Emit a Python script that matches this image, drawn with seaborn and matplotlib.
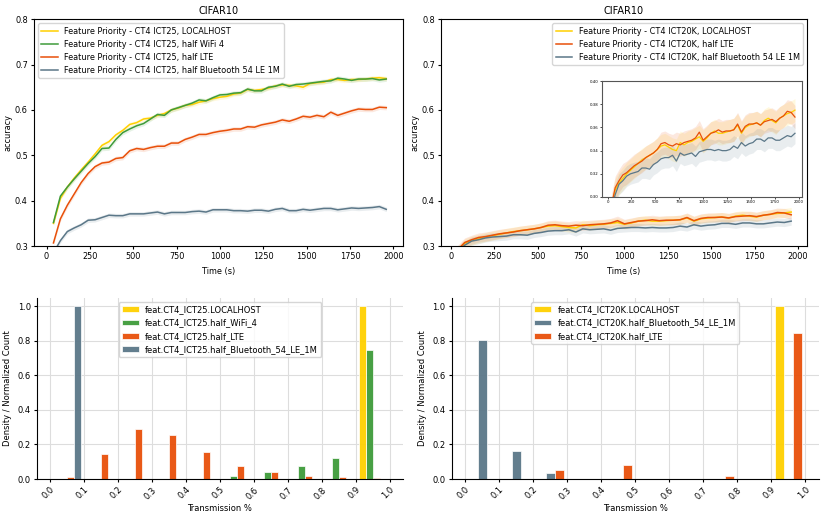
import numpy as np
import pandas as pd
import matplotlib
matplotlib.use("Agg")
import matplotlib.pyplot as plt
import seaborn as sns

plt.rcParams["font.family"] = ["DejaVu Sans"]
plt.rcParams["font.size"] = 5.9

# ---- accuracy curves (time in s) ----
time_s = [40, 80, 120, 160, 200, 240, 280, 320, 360, 400, 440, 480, 520, 560, 600, 640, 680,
          720, 760, 800, 840, 880, 920, 960, 1000, 1040, 1080, 1120, 1160, 1200, 1240, 1280,
          1320, 1360, 1400, 1440, 1480, 1520, 1560, 1600, 1640, 1680, 1720, 1760, 1800, 1840,
          1880, 1920, 1960]

ict25_local = [0.350, 0.405, 0.430, 0.450, 0.468, 0.485, 0.503, 0.522, 0.530, 0.545, 0.555,
               0.568, 0.572, 0.580, 0.582, 0.588, 0.592, 0.600, 0.604, 0.610, 0.612, 0.617,
               0.620, 0.625, 0.628, 0.630, 0.635, 0.637, 0.645, 0.643, 0.645, 0.648, 0.653,
               0.655, 0.654, 0.653, 0.650, 0.658, 0.660, 0.661, 0.667, 0.667, 0.665, 0.667,
               0.667, 0.668, 0.670, 0.671, 0.669]
ict25_wifi = [0.352, 0.410, 0.430, 0.448, 0.465, 0.482, 0.497, 0.515, 0.516, 0.535, 0.550,
              0.558, 0.565, 0.570, 0.580, 0.590, 0.588, 0.600, 0.605, 0.610, 0.615, 0.622,
              0.620, 0.627, 0.633, 0.634, 0.637, 0.638, 0.646, 0.642, 0.642, 0.650, 0.652,
              0.657, 0.652, 0.656, 0.657, 0.659, 0.661, 0.663, 0.664, 0.670, 0.668, 0.665,
              0.668, 0.668, 0.669, 0.666, 0.668]
ict25_lte = [0.307, 0.360, 0.390, 0.415, 0.440, 0.460, 0.475, 0.483, 0.485, 0.493, 0.495,
             0.510, 0.515, 0.513, 0.517, 0.520, 0.520, 0.527, 0.527, 0.535, 0.540, 0.546,
             0.546, 0.550, 0.553, 0.555, 0.558, 0.558, 0.563, 0.562, 0.567, 0.570, 0.573,
             0.578, 0.575, 0.580, 0.586, 0.584, 0.588, 0.585, 0.595, 0.588, 0.593, 0.598,
             0.602, 0.601, 0.601, 0.606, 0.605]
ict25_bt = [0.285, 0.312, 0.332, 0.340, 0.347, 0.357, 0.358, 0.363, 0.368, 0.367, 0.367,
            0.371, 0.371, 0.371, 0.373, 0.375, 0.371, 0.374, 0.374, 0.374, 0.376, 0.377,
            0.375, 0.380, 0.380, 0.380, 0.378, 0.378, 0.377, 0.379, 0.379, 0.377, 0.381,
            0.383, 0.378, 0.378, 0.381, 0.379, 0.381, 0.383, 0.383, 0.380, 0.382, 0.384,
            0.383, 0.384, 0.385, 0.387, 0.381]

ict20k_local = [0.290, 0.306, 0.312, 0.316, 0.320, 0.323, 0.326, 0.329, 0.332, 0.334, 0.336,
                0.338, 0.341, 0.344, 0.345, 0.343, 0.341, 0.340, 0.347, 0.345, 0.347, 0.348,
                0.350, 0.352, 0.348, 0.351, 0.355, 0.357, 0.355, 0.355, 0.356, 0.357, 0.358,
                0.362, 0.355, 0.360, 0.362, 0.363, 0.364, 0.362, 0.366, 0.368, 0.366, 0.364,
                0.368, 0.370, 0.372, 0.373, 0.375]
ict20k_lte = [0.292, 0.308, 0.314, 0.319, 0.321, 0.324, 0.327, 0.329, 0.331, 0.334, 0.336,
              0.338, 0.341, 0.346, 0.347, 0.345, 0.344, 0.346, 0.345, 0.347, 0.348, 0.349,
              0.351, 0.356, 0.349, 0.352, 0.355, 0.356, 0.358, 0.356, 0.357, 0.357, 0.358,
              0.363, 0.356, 0.361, 0.363, 0.363, 0.364, 0.362, 0.365, 0.366, 0.367, 0.365,
              0.368, 0.370, 0.374, 0.373, 0.369]
ict20k_bt = [0.288, 0.302, 0.311, 0.314, 0.318, 0.320, 0.321, 0.322, 0.325, 0.325, 0.324,
             0.328, 0.330, 0.333, 0.334, 0.334, 0.336, 0.331, 0.338, 0.336, 0.337, 0.338,
             0.335, 0.339, 0.340, 0.341, 0.341, 0.340, 0.341, 0.340, 0.340, 0.341, 0.344,
             0.342, 0.347, 0.344, 0.346, 0.347, 0.350, 0.350, 0.348, 0.351, 0.351, 0.349,
             0.349, 0.351, 0.353, 0.352, 0.355]

band_ict25 = [0.005, 0.005, 0.005, 0.005]
band_ict20k = [0.01, 0.01, 0.009]

labels_ict25 = ["Feature Priority - CT4 ICT25, LOCALHOST",
                "Feature Priority - CT4 ICT25, half WiFi 4",
                "Feature Priority - CT4 ICT25, half LTE",
                "Feature Priority - CT4 ICT25, half Bluetooth 54 LE 1M"]
labels_ict20k = ["Feature Priority - CT4 ICT20K, LOCALHOST",
                 "Feature Priority - CT4 ICT20K, half LTE",
                 "Feature Priority - CT4 ICT20K, half Bluetooth 54 LE 1M"]

# ---- transmission histograms (bin start, probability per config) ----
bin_starts = [0.0, 0.1, 0.2, 0.3, 0.4, 0.5, 0.6, 0.7, 0.8, 0.9]
h25_names = ["feat.CT4_ICT25.LOCALHOST", "feat.CT4_ICT25.half_WiFi_4",
             "feat.CT4_ICT25.half_LTE", "feat.CT4_ICT25.half_Bluetooth_54_LE_1M"]
h25_local = [0, 0, 0, 0, 0, 0, 0, 0, 0, 1.0]
h25_wifi = [0, 0, 0, 0, 0, 0.015, 0.04, 0.075, 0.12, 0.75]
h25_lte = [0.01, 0.145, 0.29, 0.26, 0.16, 0.075, 0.04, 0.015, 0.01, 0.005]
h25_bt = [1.0, 0, 0, 0, 0, 0, 0, 0, 0, 0]

h20k_names = ["feat.CT4_ICT20K.LOCALHOST", "feat.CT4_ICT20K.half_Bluetooth_54_LE_1M",
              "feat.CT4_ICT20K.half_LTE"]
h20k_local = [0, 0, 0, 0, 0, 0, 0, 0, 0, 1.0]
h20k_bt = [0.805, 0.16, 0.035, 0, 0, 0, 0, 0, 0, 0]
h20k_lte = [0, 0, 0.055, 0, 0.08, 0, 0, 0.02, 0, 0.845]

c_local = "#FFD000"
c_wifi = "#3E9B3A"
c_lte = "#E8500A"
c_bt = "#5B7788"


def curve_frame(series, labels):
    rows = []
    for vals, lab in zip(series, labels):
        for t, v in zip(time_s, vals):
            rows.append((t, v, lab))
    return pd.DataFrame(rows, columns=["Time (s)", "accuracy", "run"])


def draw_curves(ax, series, labels, bands, colors, lw=1.1):
    df = curve_frame(series, labels)
    sns.lineplot(data=df, x="Time (s)", y="accuracy", hue="run", hue_order=labels,
                 palette=colors, errorbar=None, linewidth=lw, ax=ax)
    for vals, b, c in zip(series, bands, colors):
        v = np.array(vals)
        ax.fill_between(time_s, v - b, v + b, color=c, alpha=0.13, linewidth=0)


def hist_frame(names, tables):
    rows = []
    for name, probs in zip(names, tables):
        for b, p in zip(bin_starts, probs):
            rows.append((b + 0.05, p, name))
    return pd.DataFrame(rows, columns=["trans", "w", "config"])


fig = plt.figure(figsize=(8.26, 5.17), dpi=100)

# top left
ax1 = fig.add_axes([0.0412, 0.524, 0.4468, 0.439])
draw_curves(ax1, [ict25_local, ict25_wifi, ict25_lte, ict25_bt], labels_ict25, band_ict25,
            [c_local, c_wifi, c_lte, c_bt])
ax1.set_xlim(-72, 2057)
ax1.set_ylim(0.3, 0.8)
ax1.set_xticks(range(0, 2001, 250))
ax1.set_title("CIFAR10", fontsize=7, pad=4)
ax1.legend(loc="upper left", fontsize=5.9)
ax1.tick_params(length=2.5, pad=2)
ax1.set_ylabel("accuracy", labelpad=2)

# top right
ax2 = fig.add_axes([0.534, 0.524, 0.443, 0.439])
ser20 = [ict20k_local, ict20k_lte, ict20k_bt]
draw_curves(ax2, ser20, labels_ict20k, band_ict20k, [c_local, c_lte, c_bt])
ax2.set_xlim(-56, 2051)
ax2.set_ylim(0.3, 0.8)
ax2.set_xticks(range(0, 2001, 250))
ax2.set_title("CIFAR10", fontsize=7, pad=4)
ax2.legend(loc="upper right", fontsize=5.9)
ax2.tick_params(length=2.5, pad=2)
ax2.set_ylabel("accuracy", labelpad=2)

# inset
axi = fig.add_axes([0.729, 0.619, 0.242, 0.224])
draw_curves(axi, ser20, labels_ict20k, band_ict20k, [c_local, c_lte, c_bt], lw=0.9)
axi.set_xlim(-56, 2034)
axi.set_ylim(0.30, 0.40)
axi.set_xticks(range(0, 2001, 250))
axi.set_yticks([0.30, 0.32, 0.34, 0.36, 0.38, 0.40])
axi.yaxis.set_major_formatter(matplotlib.ticker.FormatStrFormatter("%.2f"))
axi.tick_params(labelsize=2.8, length=1.5, width=0.5, pad=1)
axi.set_xlabel("")
axi.set_ylabel("")
axi.get_legend().remove()
for s in axi.spines.values():
    s.set_color("#555555")

# bottom histograms
for pos, names, tables, cols in [
        ([0.0448, 0.0735, 0.443, 0.3505], h25_names, [h25_local, h25_wifi, h25_lte, h25_bt],
         [c_local, c_wifi, c_lte, c_bt]),
        ([0.547, 0.0735, 0.444, 0.3505], h20k_names, [h20k_local, h20k_bt, h20k_lte],
         [c_local, c_bt, c_lte])]:
    ax = fig.add_axes(pos)
    ax.set_axisbelow(True)
    ax.grid(True, color="#dddddd", linewidth=0.8)
    df = hist_frame(names, tables)
    sns.histplot(data=df, x="trans", weights="w", hue="config", hue_order=names,
                 palette=cols, binwidth=0.1, binrange=(0, 1), multiple="dodge", shrink=0.8,
                 stat="probability", common_norm=False, alpha=0.95, edgecolor="white",
                 linewidth=0.5, ax=ax)
    ax.set_xticks(np.arange(0, 1.01, 0.1))
    ax.set_xticklabels([f"{t:.1f}" for t in np.arange(0, 1.01, 0.1)], rotation=45,
                       ha="right", rotation_mode="anchor")
    ax.set_xlabel("Transmission %", fontsize=6, labelpad=2)
    ax.set_ylabel("Density / Normalized Count", fontsize=6)
    ax.set_yticks([0.0, 0.2, 0.4, 0.6, 0.8, 1.0])
    ax.tick_params(labelsize=6, length=2.5, pad=2)
    sns.despine(ax=ax)
    sns.move_legend(ax, "upper center", title=None, fontsize=6)

fig.savefig("out.png", dpi=100)
